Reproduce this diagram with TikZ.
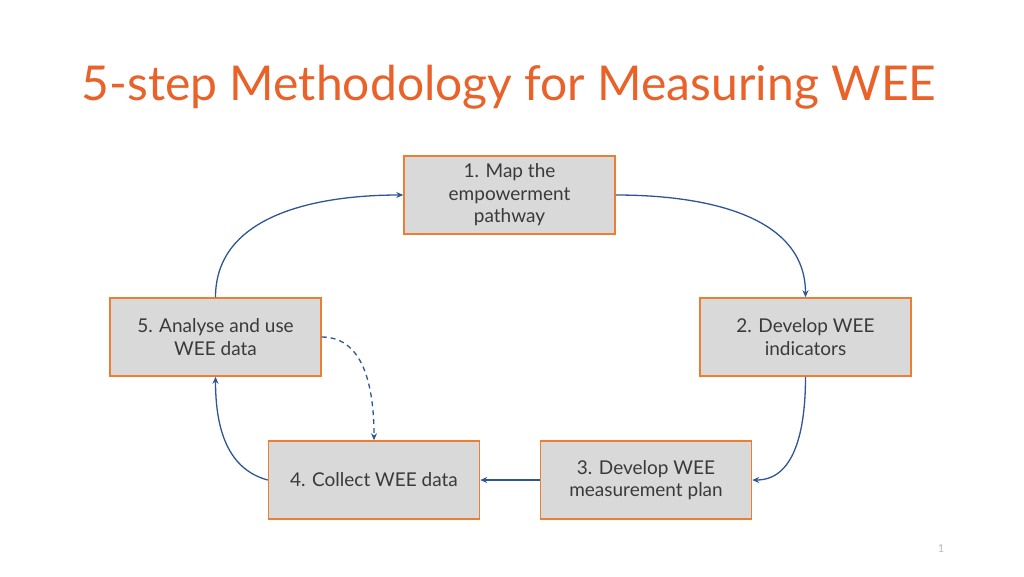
\documentclass[tikz,border=0pt]{standalone}
\usepackage{fontspec}
\setmainfont{Lato}
\usetikzlibrary{arrows.meta}
\definecolor{ttl}{HTML}{E8622A}
\definecolor{bord}{HTML}{ED7D31}
\definecolor{fillg}{HTML}{D9D9D9}
\definecolor{arr}{HTML}{2F5597}
\definecolor{txt}{HTML}{3A3A3A}
\begin{document}
\begin{tikzpicture}[x=1pt,y=-1pt,
  stepbox/.style={draw=bord,line width=1.5pt,fill=fillg,minimum width=211pt,minimum height=78pt,
    inner sep=0pt,align=center,text=txt,font=\fontsize{19}{22.5}\selectfont},
  conn/.style={draw=arr,line width=1.3pt,-{Stealth[length=7pt,width=6pt]}}]
\useasboundingbox (0,0) rectangle (1024,576);
\node[text=ttl,font=\fontsize{48}{52}\selectfont] (title) at (509,87) {5-step Methodology for Measuring WEE};
\node[stepbox] (s1) at (509.5,195) {1. Map the\\empowerment\\pathway};
\node[stepbox] (s2) at (805.5,337) {2. Develop WEE\\indicators};
\node[stepbox] (s3) at (646,480) {3. Develop WEE\\measurement plan};
\node[stepbox] (s4) at (374,480) {4. Collect WEE data};
\node[stepbox] (s5) at (215.5,337) {5. Analyse and use\\WEE data};
\node[text=gray!55,font=\fontsize{11}{12}\selectfont] (pg) at (941,549) {1};
\draw[conn] (s1.east) to[out=0,in=90] (s2.north);
\draw[conn] (s2.south) to[out=-90,in=0] (s3.east);
\draw[conn] (s3.west) -- (s4.east);
\draw[conn] (s4.west) to[out=165,in=-90] (s5.south);
\draw[conn] (s5.north) to[out=90,in=180] (s1.west);
\draw[conn,dashed,dash pattern=on 5pt off 4pt] (s5.east) to[out=0,in=90] (s4.north);
\end{tikzpicture}
\end{document}
